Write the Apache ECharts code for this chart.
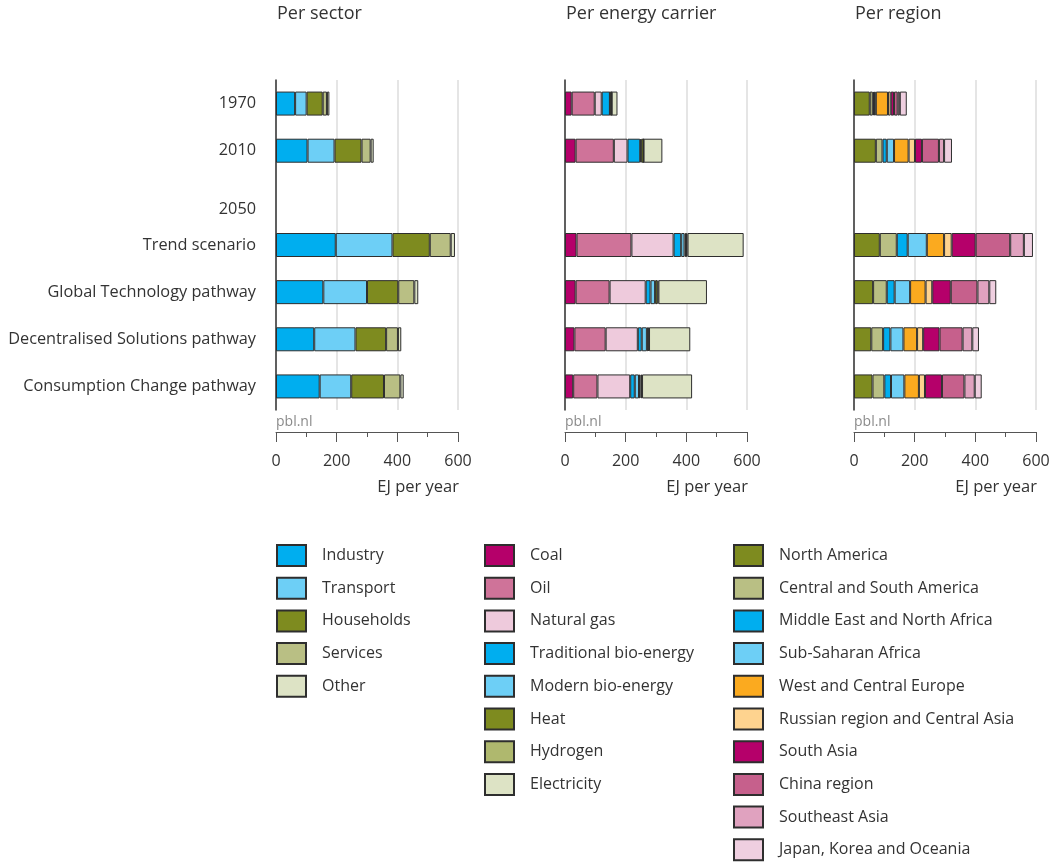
<!DOCTYPE html>
<html>
<head>
<meta charset="utf-8">
<script src="https://cdn.jsdelivr.net/npm/echarts@6/dist/echarts.min.js"></script>
<style>
  html, body { margin: 0; padding: 0; background: #fff; }
  #chart { width: 1062px; height: 862px; }
</style>
</head>
<body>
<div id="chart"></div>
<script>
// Final energy demand, EJ per year
const categories = ['1970', '2010', '2050', 'Trend scenario', 'Global Technology pathway',
  'Decentralised Solutions pathway', 'Consumption Change pathway'];
const xTicks = [0, 200, 400, 600];

// Per sector
const industry   = [63, 104, null, 197, 156, 126, 144];
const transport  = [38, 89, null, 187, 144, 136, 104];
const households = [53, 89, null, 123, 103, 101, 108];
const services   = [14, 30, null, 69, 53, 39, 54];
const other      = [8, 10, null, 14, 13, 11, 11];

// Per energy carrier
const coal        = [22, 35, null, 38, 35, 31, 27];
const oil         = [76, 126, null, 181, 112, 103, 80];
const naturalGas  = [23, 45, null, 139, 119, 106, 108];
const tradBio     = [27, 42, null, 25, 16, 13, 15];
const modernBio   = [1, 3, null, 11, 15, 17, 14];
const heat        = [5, 8, null, 5, 8, 5, 5];
const hydrogen    = [0, 0, null, 5, 3, 2, 5];
const electricity = [19, 62, null, 185, 160, 136, 165];

// Per region
const northAmerica   = [52, 72, null, 85, 63, 57, 61];
const centralSouthAm = [10, 22, null, 56, 45, 39, 39];
const meNorthAfrica  = [4, 14, null, 36, 26, 24, 22];
const subSaharan     = [6, 24, null, 63, 51, 43, 44];
const westCentralEu  = [40, 48, null, 57, 51, 45, 48];
const russiaCentAs   = [9, 21, null, 25, 22, 20, 20];
const southAsia      = [11, 23, null, 79, 61, 54, 56];
const chinaRegion    = [12, 56, null, 114, 88, 76, 74];
const southeastAsia  = [7, 17, null, 45, 39, 32, 34];
const japanKoreaOce  = [23, 26, null, 30, 23, 22, 23];

const sectorSeries = [
  ['Industry', industry, '#00aeef'],
  ['Transport', transport, '#6dcff6'],
  ['Households', households, '#7e8b1f'],
  ['Services', services, '#b9bf84'],
  ['Other', other, '#dde3c5']
];
const carrierSeries = [
  ['Coal', coal, '#b5006a'],
  ['Oil', oil, '#cf7399'],
  ['Natural gas', naturalGas, '#eecadc'],
  ['Traditional bio-energy', tradBio, '#00aeef'],
  ['Modern bio-energy', modernBio, '#6dcff6'],
  ['Heat', heat, '#7e8b1f'],
  ['Hydrogen', hydrogen, '#afb86e'],
  ['Electricity', electricity, '#dde3c5']
];
const regionSeries = [
  ['North America', northAmerica, '#7e8b1f'],
  ['Central and South America', centralSouthAm, '#b9bf84'],
  ['Middle East and North Africa', meNorthAfrica, '#00aeef'],
  ['Sub-Saharan Africa', subSaharan, '#6dcff6'],
  ['West and Central Europe', westCentralEu, '#fbaa1f'],
  ['Russian region and Central Asia', russiaCentAs, '#fed38f'],
  ['South Asia', southAsia, '#b5006a'],
  ['China region', chinaRegion, '#c6608c'],
  ['Southeast Asia', southeastAsia, '#e0a2bf'],
  ['Japan, Korea and Oceania', japanKoreaOce, '#efcfe0']
];

const FONT = '"Open Sans", "Noto Sans", sans-serif';
const TXT = '#333';
const panelLeft = [276, 565, 854];
const panelWidth = 182;
const panelTitles = ['Per sector', 'Per energy carrier', 'Per region'];
const panels = [sectorSeries, carrierSeries, regionSeries];

const grids = panelLeft.map(l => ({ left: l, width: panelWidth, top: 80, height: 330 }));

const xAxes = panelLeft.map((l, i) => ({
  type: 'value', gridIndex: i, min: xTicks[0], max: xTicks[xTicks.length - 1],
  interval: 200, position: 'bottom', offset: 22,
  axisLine: { show: true, lineStyle: { color: '#555', width: 1 } },
  axisTick: { show: true, length: 10, lineStyle: { color: '#555' } },
  minorTick: { show: true, splitNumber: 2, length: 5, lineStyle: { color: '#555' } },
  splitLine: { show: true, lineStyle: { color: '#dcdcdc', width: 1.5 } },
  axisLabel: { fontSize: 16, color: TXT, fontFamily: FONT, margin: 21 }
}));

const yAxes = panelLeft.map((l, i) => ({
  type: 'category', gridIndex: i, inverse: true, data: categories,
  axisLine: { show: true, lineStyle: { color: '#333', width: 1.5 } },
  axisTick: { show: false },
  axisLabel: {
    show: i === 0, fontSize: 16.3, color: TXT, fontFamily: FONT, margin: 20,
    formatter: v => v === '2050' ? '{yr|' + v + '}' : v,
    rich: { yr: { fontSize: 16.3, color: TXT, fontFamily: FONT, padding: [24, 0, 0, 0] } }
  }
}));

const series = [];
panels.forEach((list, i) => {
  list.forEach(([name, values, color]) => {
    series.push({
      name, type: 'bar', stack: 'panel' + i, xAxisIndex: i, yAxisIndex: i,
      barWidth: 24, data: values,
      itemStyle: { color, borderColor: '#2e2e2e', borderWidth: 1 },
      emphasis: { disabled: true }
    });
  });
});

const legendLeft = [276, 484, 733];
const legends = panels.map((list, i) => ({
  orient: 'vertical', left: legendLeft[i], top: 544, padding: 0,
  data: list.map(s => s[0]), icon: 'rect',
  itemWidth: 29, itemHeight: 21, itemGap: 9.7,
  textStyle: { fontSize: 16, lineHeight: 16, color: TXT, fontFamily: FONT, padding: [0, 0, 0, 11] },
  selectedMode: false
}));

const graphics = [];
panelLeft.forEach((l, i) => {
  graphics.push({ type: 'text', left: l + 1, top: 5,
    style: { text: panelTitles[i], fontSize: 18, fill: TXT, fontFamily: FONT } });
  graphics.push({ type: 'text', left: l, top: 415,
    style: { text: 'pbl.nl', fontSize: 14, fill: '#8a8a8a', fontFamily: FONT } });
  graphics.push({ type: 'text', right: 1062 - (l + panelWidth) - 1, top: 479,
    style: { text: 'EJ per year', fontSize: 16.5, fill: TXT, fontFamily: FONT } });
});

const chart = echarts.init(document.getElementById('chart'), null, { renderer: 'canvas' });
chart.setOption({
  backgroundColor: '#fff',
  animation: false,
  textStyle: { fontFamily: FONT },
  grid: grids,
  xAxis: xAxes,
  yAxis: yAxes,
  legend: legends,
  graphic: graphics,
  series
});
</script>
</body>
</html>
